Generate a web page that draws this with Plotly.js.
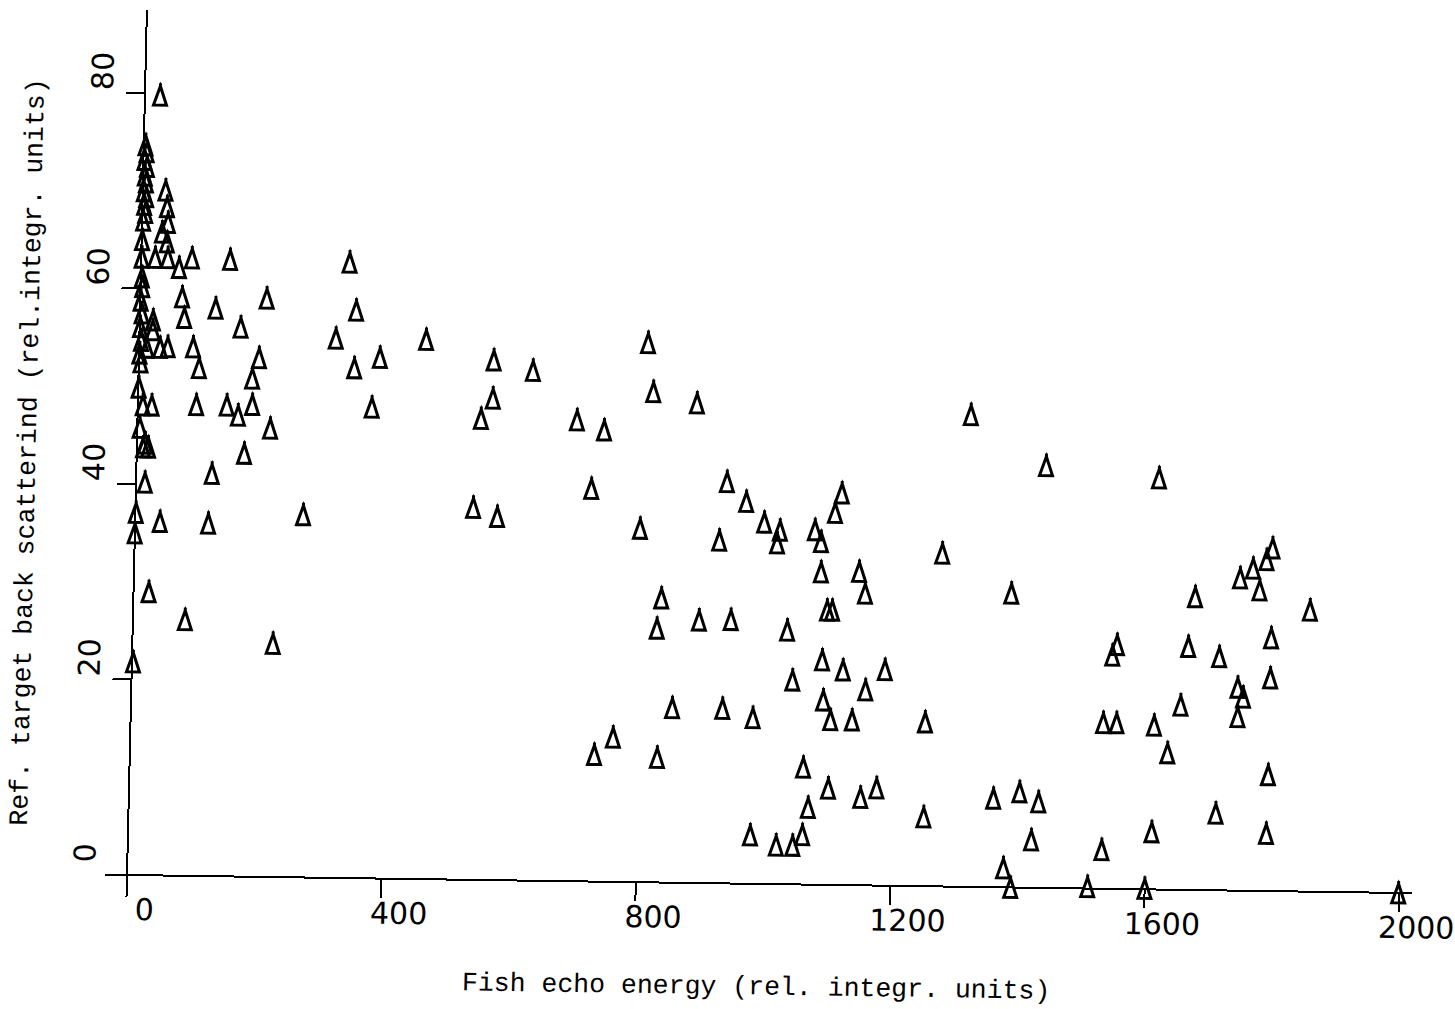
<!DOCTYPE html>
<html>
<head>
<meta charset="utf-8">
<script src="https://cdn.plot.ly/plotly-3.0.1.min.js"></script>
<style>
html,body{margin:0;padding:0;background:#fff;overflow:hidden;}
#chart{position:absolute;left:0;top:0;width:1455px;height:1009px;
  transform-origin:127px 875px;transform:matrix(1,0.0141,-0.023,1,0,0);}
</style>
</head>
<body>
<div id="chart"></div>
<script>
// Fish echo energy (x) and reference target back scattering (y)
const fishEcho = [
  // dense column on the vertical axis
  3,5,2,6,3,5,2,6,3,5,2,
  1,1,2,3,1,3,21,21,1,3,12,33,45,1,3,1,8,22,4,13,10,18,14,1,0,39,115,24,82,221,2,
  // just right of the column
  24,36,39,41,32,40,22,42,60,80,140,66,70,119,199,159,85,95,189,179,92,140,158,180,209,169,119,
  // 250 - 900
  328,340,309,451,339,379,368,558,620,558,540,800,810,879,691,734,264,531,569,716,794,
  // 800 - 1450, upper group
  929,960,989,1014,1010,919,1110,1100,1069,1079,1080,1140,1150,1270,830,1091,1099,1310,1430,1608,1380,
  // 700 - 1400, lower group
  824,890,940,1029,1085,1118,1184,1039,1154,1088,1100,1134,1249,851,930,978,759,730,829,1059,
  1099,1150,1175,1068,1250,1359,978,1019,1045,1060,
  // 1370 - 2000
  1789,1780,1759,1739,1770,1669,1850,1790,1548,1541,1660,1709,1790,1739,1748,1740,1650,1529,1550,1609,
  1631,1790,1709,1609,1789,1400,1430,1420,1531,1377,1389,1510,1600,1999
];
const refTarget = [
  74.7,74,73.2,72.5,71.6,70.9,70,69.4,68.6,67.8,67,
  65,63.2,61.2,60.2,58.8,57.5,56.8,55.8,56.1,54.7,54,54,54.1,53.4,52.5,49.9,48.1,48.1,45.8,44.2,43.8,43.8,40.2,37.1,35,36.2,36.1,29,26.2,23.9,21.8,
  79.8,70.1,68.4,66.8,65.8,64.8,63.2,63.2,62.2,63.2,63.1,59.2,57.1,58.1,59.2,56.2,54.1,52,53.1,51,48.2,48.2,47.2,48.3,45.9,43.3,41.2,
  63,58.1,55.2,55.2,52.2,53.3,48.2,53.2,52.2,49.3,47.2,55.2,50.2,49.1,47.2,46.2,37.1,38.1,37.2,40.2,36.2,
  41.1,39.1,37,36.2,34.9,35.1,40.1,38.1,36.3,35.1,32,32.1,29.9,34.1,29.1,28.1,28.1,48.3,43.2,42.1,30.1,
  26,26.9,27,26,23,22,22.1,20.9,20,18.9,16.9,16.9,16.8,17.9,17.9,17,14.8,13,12.8,12,
  9.9,9,10,7.9,7.1,9.1,5,4,4,5.1,
  35.1,33.9,33,32,30.8,30,28.8,25.9,25,23.9,24.9,23.9,21.8,20.8,19.8,17.8,18.9,17,17,16.8,
  14,11.9,7.9,5.9,5.9,9.8,8.8,4.9,4,2,0,0.2,0.1,0
];
const xTickVals = [0, 400, 800, 1200, 1600, 2000];
const xTickText = ['0', '400', '800', '1200', '1600', '2000'];
const yTickVals = [0, 20, 40, 60, 80];
const yTickText = ['0', '20', '40', '60', '80'];
const xTitle = 'Fish echo energy (rel. integr. units)';
const yTitle = 'Ref. target back scatterind (rel.integr. units)';

const xRange = [-34.6, 2020.4];
const yRange = [-2.25, 88.49];

// open plotter-style triangle, drawn in pixels around each data point
const triPath = 'M-6.5,-10 L6.5,-10 L0,9 Z M0,9 L0,12';
const shapes = fishEcho.map((x, i) => ({
  type: 'path', xref: 'x', yref: 'y',
  xsizemode: 'pixel', ysizemode: 'pixel',
  xanchor: x, yanchor: refTarget[i],
  path: triPath,
  line: {color: '#000', width: 3},
  fillcolor: 'rgba(0,0,0,0)',
  layer: 'above'
}));

const trace = {
  type: 'scatter', mode: 'markers',
  x: fishEcho, y: refTarget,
  marker: {color: 'rgba(0,0,0,0)', size: 14},
  cliponaxis: false,
  hoverinfo: 'x+y'
};

const tickFont = {family: 'DejaVu Sans', size: 30, color: '#000'};
const titleFont = {family: 'Liberation Mono', size: 26.5, color: '#000'};

const layout = {
  width: 1455, height: 1009,
  margin: {l: 105, r: 43, t: 10, b: 112},
  paper_bgcolor: '#fff', plot_bgcolor: '#fff',
  showlegend: false,
  shapes: shapes,
  xaxis: {
    range: xRange, anchor: 'free', position: 2.25 / 90.74,
    showline: true, linecolor: '#000', linewidth: 2,
    showgrid: false, zeroline: false,
    ticks: 'outside', ticklen: 18, tickwidth: 2, tickcolor: '#000',
    tickvals: xTickVals, ticktext: xTickText, tickfont: tickFont,
    ticklabelshift: 18, ticklabelstandoff: -10, ticklabeloverflow: 'allow',
    title: {text: xTitle, font: titleFont, standoff: 40},
    automargin: false
  },
  yaxis: {
    range: yRange, anchor: 'free', position: 34.6 / 2055,
    showline: true, linecolor: '#000', linewidth: 2,
    showgrid: false, zeroline: false,
    ticks: 'outside', ticklen: 18, tickwidth: 2, tickcolor: '#000',
    tickvals: yTickVals, ticktext: yTickText, tickfont: tickFont,
    tickangle: -90, ticklabelshift: -17, ticklabelstandoff: 1, ticklabeloverflow: 'allow',
    title: {text: yTitle, font: titleFont, standoff: 32},
    automargin: false
  }
};

Plotly.newPlot('chart', [trace], layout, {displayModeBar: false, staticPlot: true});
</script>
</body>
</html>
